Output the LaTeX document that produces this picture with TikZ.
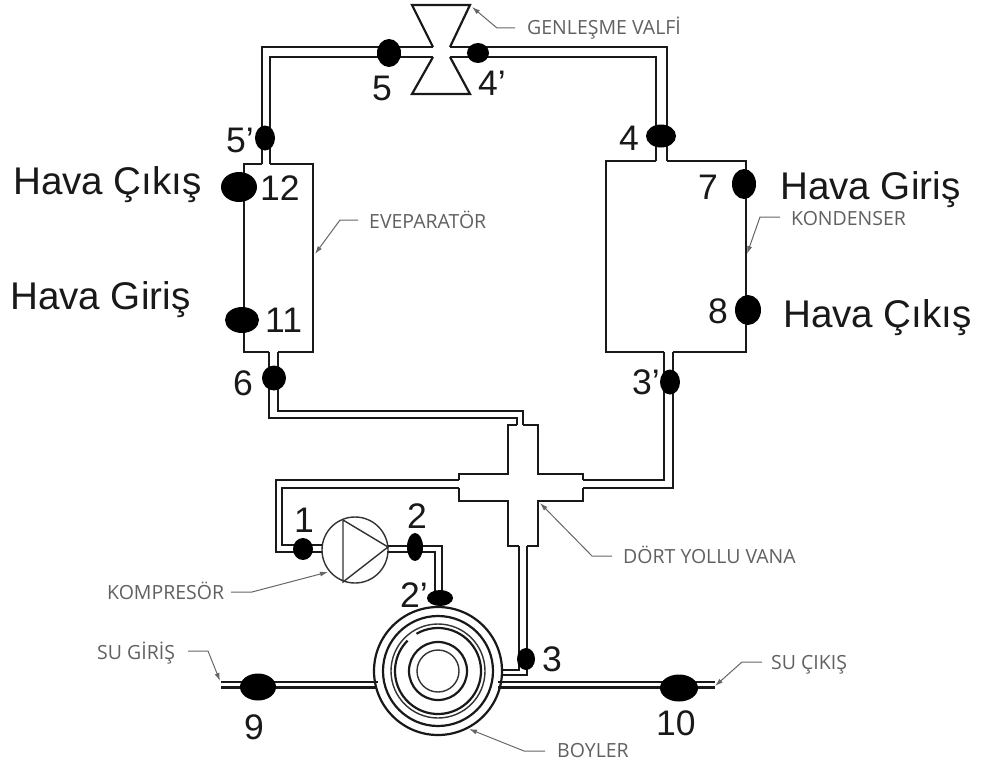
\documentclass[tikz,border=0pt]{standalone}
\usepackage{fontspec}
\setmainfont{Liberation Sans}
\newfontfamily\notefont{Open Sans}
\usetikzlibrary{arrows.meta,shapes.geometric}

\begin{document}
\begin{tikzpicture}[
  x=1pt,y=-1pt,
  pipe/.style={draw=black!90,line width=2.2pt,line join=miter},
  thin line/.style={draw=black!80,line width=1.4pt},
  point/.style={ellipse,fill=black,draw=none,inner sep=0pt},
  tag/.style={font=\fontsize{35.5}{36}\selectfont,text=black!90,anchor=base west,inner sep=0pt},
  air/.style={font=\fontsize{38.6}{39}\selectfont,text=black!90,anchor=base west,inner sep=0pt},
  note/.style={font=\notefont\fontsize{19.5}{20}\selectfont,text=black!62,anchor=base west,inner sep=0pt},
  leader/.style={draw=black!60,line width=1pt,-{Latex[length=8pt,width=5pt]}},
]
\useasboundingbox (0,0) rectangle (982,760);
\fill[white] (0,0) rectangle (982,760);
\coordinate (valve tip) at (472,7);
\coordinate (evap tip) at (315,254);
\coordinate (cond tip) at (747,254);
\coordinate (cross tip) at (540,503);
\coordinate (comp tip) at (328,572);
\coordinate (boiler tip) at (469,729);
\coordinate (in tip) at (220,681);
\coordinate (out tip) at (715,686);
% expansion valve
\draw[pipe] (433,47)--(412,5)--(470,5)--(450,47);
\draw[pipe] (433,57)--(412,94)--(470,94)--(450,57);
% upper loop
\draw[pipe] (433,47)--(262,47)--(262,164);
\draw[pipe] (433,57)--(270,57)--(270,164);
\draw[pipe] (450,47)--(667,47)--(667,161);
\draw[pipe] (450,57)--(656,57)--(656,161);
% evaporator and condenser
\draw[pipe] (262,164)--(244,164)--(244,352)--(269,352);
\draw[pipe] (270,164)--(313,164)--(313,352)--(278,352);
\draw[pipe] (656,161)--(606,161)--(606,352)--(664,352);
\draw[pipe] (667,161)--(746,161)--(746,352)--(673,352);
% pipes to the four way valve
\draw[pipe] (269,352)--(269,418)--(517,418)--(517,425);
\draw[pipe] (278,352)--(278,411)--(523,411)--(523,425);
\draw[pipe] (664,352)--(664,480)--(583,480);
\draw[pipe] (673,352)--(673,488)--(583,488);
% four way valve
\draw[pipe] (517,425)--(508,425)--(508,474)--(459,474)--(459,480);
\draw[pipe] (459,488)--(459,501)--(508,501)--(508,546)--(519,546);
\draw[pipe] (523,425)--(538,425)--(538,474)--(583,474)--(583,480);
\draw[pipe] (583,488)--(583,501)--(538,501)--(538,546)--(527,546);
% compressor loop
\draw[pipe] (459,480)--(276,480)--(276,552)--(322,552);
\draw[pipe] (459,488)--(282,488)--(282,545)--(322,545);
\draw[thin line] (355,550) circle (33);
\draw[thin line] (343,520)--(343,582)--(388,547)--cycle;
\draw[pipe] (388,546)--(442,546)--(442,598);
\draw[pipe] (388,552)--(435,552)--(435,598);
% boiler
\draw[pipe] (438,671) circle (64);
\draw[pipe] (438,671) circle (55);
\draw[thin line] (438,671) circle (47);
\draw[pipe] (438,671) ++(120:43pt) arc[start angle=120,end angle=-225,radius=43pt];
\draw[pipe] (438,671) circle (29);
\draw[thin line] (438,671) circle (21);
\draw[pipe] (519,546)--(519,670)--(501,670);
\draw[pipe] (527,546)--(527,675)--(501,675);
\draw[pipe] (221,682)--(378,682);
\draw[pipe] (221,687.5)--(377,687.5);
\draw[pipe] (498,682)--(715,682);
\draw[pipe] (498,687.5)--(715,687.5);
% measuring points
\node[point,minimum width=24pt,minimum height=28pt] (p5) at (389,53) {};
\node[point,minimum width=22pt,minimum height=20pt] (p4p) at (478,53) {};
\node[point,minimum width=20pt,minimum height=25pt] (p5p) at (265,138) {};
\node[point,minimum width=30pt,minimum height=23pt] (p4) at (661,136) {};
\node[point,minimum width=36pt,minimum height=30pt] (p12) at (239,187) {};
\node[point,minimum width=34pt,minimum height=26pt] (p11) at (242,320) {};
\node[point,minimum width=24pt,minimum height=25pt] (p6) at (274,378) {};
\node[point,minimum width=24pt,minimum height=30pt] (p7) at (744,184) {};
\node[point,minimum width=26pt,minimum height=30pt] (p8) at (748,310) {};
\node[point,minimum width=20pt,minimum height=25pt] (p3p) at (670,382) {};
\node[point,minimum width=20pt,minimum height=22pt] (p1) at (303,549) {};
\node[point,minimum width=16pt,minimum height=28pt] (p2) at (415,547) {};
\node[point,minimum width=26pt,minimum height=16pt] (p2p) at (440,598) {};
\node[point,minimum width=18pt,minimum height=22pt] (p3) at (526,659) {};
\node[point,minimum width=36pt,minimum height=27pt] (p9) at (258,687) {};
\node[point,minimum width=38pt,minimum height=27pt] (p10) at (679,688) {};
% numbers
\node[tag] (t5) at (372,100) {5};
\node[tag] (t4p) at (478,95) {4’};
\node[tag] (t5p) at (226,152) {5’};
\node[tag] (t4) at (619,150) {4};
\node[tag] (t12) at (260,200) {12};
\node[tag] (t11) at (265,332) {11};
\node[tag] (t6) at (233,395) {6};
\node[tag] (t7) at (698,199) {7};
\node[tag] (t8) at (708,323) {8};
\node[tag] (t3p) at (632,394) {3’};
\node[tag] (t1) at (294,532) {1};
\node[tag] (t2) at (407,528) {2};
\node[tag] (t2p) at (400,607) {2’};
\node[tag] (t3) at (542,671) {3};
\node[tag] (t9) at (244,739) {9};
\node[tag] (t10) at (656,735) {10};
% air labels
\node[air] (air out left) at (13,194) {Hava Çıkış};
\node[air] (air in left) at (10,309) {Hava Giriş};
\node[air] (air in right) at (780,199) {Hava Giriş};
\node[air] (air out right) at (783,327) {Hava Çıkış};
% component labels
\node[note] (valve) at (527,35) {GENLEŞME VALFİ};
\node[note] (evap) at (369,228) {EVEPARATÖR};
\node[note] (cond) at (791,225) {KONDENSER};
\node[note] (cross) at (623,563) {DÖRT YOLLU VANA};
\node[note] (comp) at (107,599) {KOMPRESÖR};
\node[note] (boiler) at (557,757) {BOYLER};
\node[note] (in) at (97,659) {SU GİRİŞ};
\node[note] (out) at (771,669) {SU ÇIKIŞ};
\coordinate (valve end) at (515,28);
\coordinate (evap end) at (358,220);
\coordinate (cond end) at (780,217);
\coordinate (cross end) at (612,556);
\coordinate (comp end) at (231,592);
\coordinate (boiler end) at (545,751);
\coordinate (in end) at (188,651);
\coordinate (out end) at (762,662);
\draw[leader] (valve end)--++(-18,0)--(valve tip);
\draw[leader] (evap end)--++(-18,0)--(evap tip);
\draw[leader] (cond end)--++(-20,0)--(cond tip);
\draw[leader] (cross end)--++(-20,0)--(cross tip);
\draw[leader] (comp end)--++(21,0)--(comp tip);
\draw[leader] (boiler end)--++(-21,0)--(boiler tip);
\draw[leader] (in end)--++(20,0)--(in tip);
\draw[leader] (out end)--++(-20,0)--(out tip);
\end{tikzpicture}
\end{document}
